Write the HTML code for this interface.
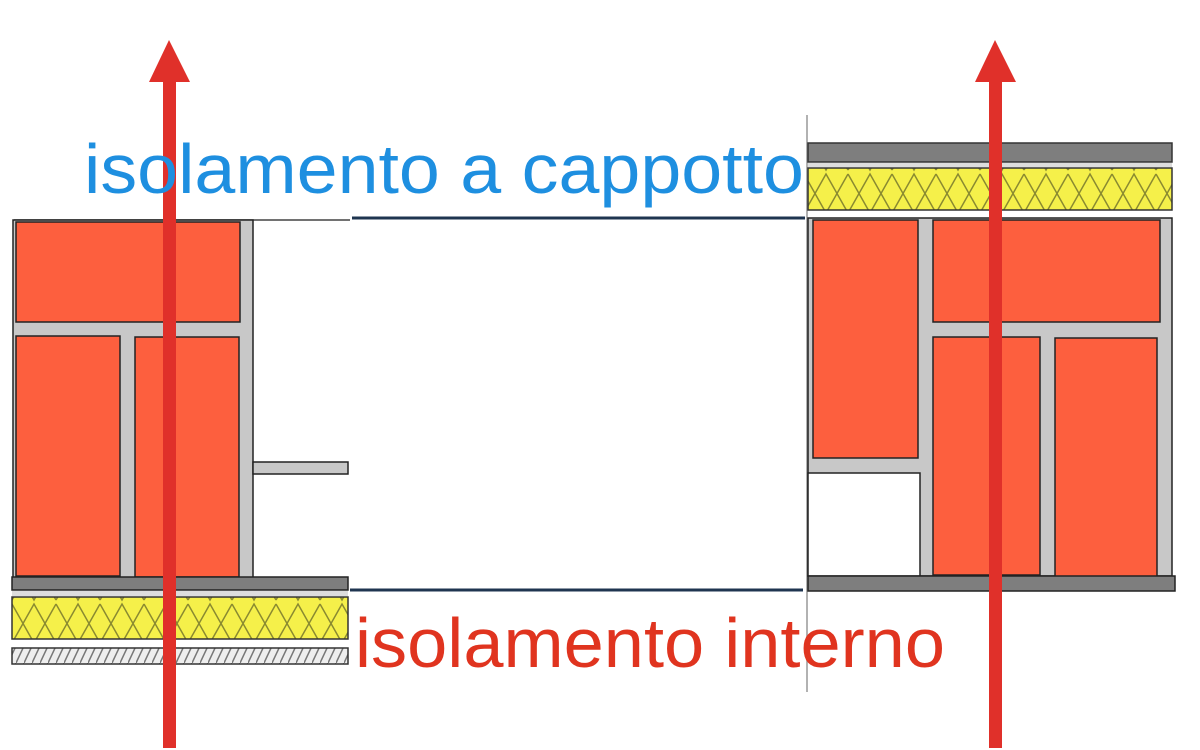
<!DOCTYPE html>
<html><head><meta charset="utf-8"><style>html,body{margin:0;padding:0;background:#fff}svg{display:block}</style></head>
<body>
<svg width="1200" height="750" viewBox="0 0 1200 750" xmlns="http://www.w3.org/2000/svg">
<defs>
<pattern id="zig" x="12" y="0" width="44" height="43" patternUnits="userSpaceOnUse">
<rect width="44" height="43" fill="#f5f04a"/>
<path d="M0,2 L22,41 L44,2 M0,41 L22,2 L44,41" stroke="#8a8a30" stroke-width="1.5" fill="none"/>
</pattern>
<pattern id="hatch" x="0" y="0" width="8" height="17" patternUnits="userSpaceOnUse">
<rect width="8" height="17" fill="#eee"/>
<path d="M0,17 L8,0" stroke="#777" stroke-width="1.5"/>
</pattern>
</defs>
<rect width="1200" height="750" fill="#fff"/>

<!-- LEFT PANEL -->
<line x1="14" y1="220" x2="350" y2="220" stroke="#444" stroke-width="1.5"/>
<rect x="13" y="220" width="240" height="358" fill="#c8c8c8" stroke="#222" stroke-width="1.5"/>
<rect x="16" y="222" width="224" height="100" fill="#fd5f3e" stroke="#222" stroke-width="1.5"/>
<rect x="16" y="336" width="104" height="240" fill="#fd5f3e" stroke="#222" stroke-width="1.5"/>
<rect x="135" y="337" width="104" height="240" fill="#fd5f3e" stroke="#222" stroke-width="1.5"/>
<rect x="253" y="462" width="95" height="12" fill="#c8c8c8" stroke="#222" stroke-width="1.5"/>
<rect x="12" y="577" width="336" height="13" fill="#7e7e7e" stroke="#222" stroke-width="1.5"/>
<rect x="12" y="591" width="336" height="5" fill="#ddd"/>
<rect x="12" y="597" width="336" height="42" fill="url(#zig)" stroke="#333" stroke-width="1.5"/>
<rect x="12" y="648" width="336" height="16" fill="url(#hatch)" stroke="#333" stroke-width="1.5"/>

<!-- RIGHT PANEL -->
<line x1="807" y1="115" x2="807" y2="692" stroke="#999" stroke-width="1.5"/>
<rect x="808" y="143" width="364" height="19" fill="#7e7e7e" stroke="#333" stroke-width="1.5"/>
<rect x="808" y="163" width="364" height="4" fill="#ddd"/>
<rect x="808" y="168" width="364" height="42" fill="url(#zig)" stroke="#333" stroke-width="1.5"/>
<rect x="808" y="218" width="364" height="358" fill="#c8c8c8" stroke="#222" stroke-width="1.5"/>
<rect x="813" y="220" width="105" height="238" fill="#fd5f3e" stroke="#222" stroke-width="1.5"/>
<rect x="808" y="473" width="112" height="103" fill="#fff" stroke="#222" stroke-width="1.5"/>
<rect x="933" y="220" width="227" height="102" fill="#fd5f3e" stroke="#222" stroke-width="1.5"/>
<rect x="933" y="337" width="107" height="238" fill="#fd5f3e" stroke="#222" stroke-width="1.5"/>
<rect x="1055" y="338" width="102" height="239" fill="#fd5f3e" stroke="#222" stroke-width="1.5"/>
<rect x="808" y="576" width="367" height="15" fill="#7e7e7e" stroke="#222" stroke-width="1.5"/>

<!-- connector lines -->
<line x1="352" y1="218" x2="805" y2="218" stroke="#1f3550" stroke-width="3"/>
<line x1="350" y1="590" x2="803" y2="590" stroke="#1f3550" stroke-width="3"/>

<!-- arrows -->
<rect x="163" y="80" width="13" height="668" fill="#e0302a"/>
<polygon points="169,40 149,82 190,82" fill="#e0302a"/>
<rect x="989" y="80" width="13" height="668" fill="#e0302a"/>
<polygon points="995,40 975,82 1016,82" fill="#e0302a"/>

<!-- labels -->
<text x="84" y="193" font-family="Liberation Sans, sans-serif" font-size="70" fill="#1e8fe0" textLength="720" lengthAdjust="spacingAndGlyphs">isolamento a cappotto</text>
<text x="355" y="667" font-family="Liberation Sans, sans-serif" font-size="70" fill="#e0341f" textLength="590" lengthAdjust="spacingAndGlyphs">isolamento interno</text>
</svg>
</body></html>
